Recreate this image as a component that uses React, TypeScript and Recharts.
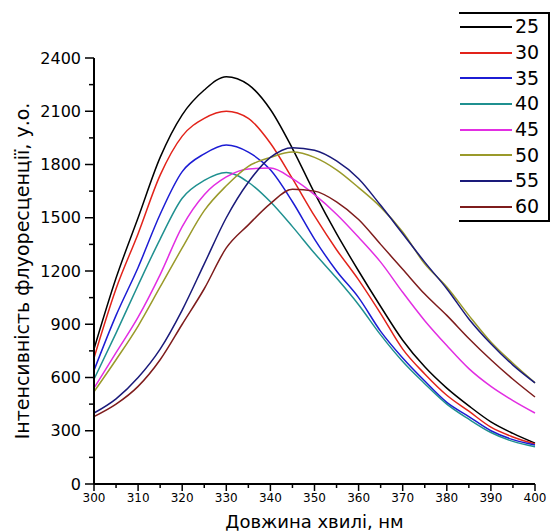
import { LineChart, Line, XAxis, YAxis } from 'recharts';

// Спектри флуоресценції при різних температурах
const wavelengths = [300, 305, 310, 315, 320, 325, 330, 335, 340, 345, 350, 355, 360, 365, 370, 375, 380, 385, 390, 395, 400];

const s25 = [760, 1160, 1500, 1840, 2080, 2220, 2295, 2250, 2110, 1890, 1640, 1410, 1200, 1000, 810, 660, 540, 440, 350, 285, 230];
const s30 = [710, 1100, 1410, 1740, 1960, 2060, 2100, 2060, 1920, 1720, 1510, 1320, 1150, 960, 760, 620, 500, 410, 320, 265, 225];
const s35 = [640, 950, 1220, 1520, 1760, 1860, 1910, 1870, 1770, 1590, 1380, 1200, 1050, 860, 710, 580, 460, 380, 300, 250, 220];
const s40 = [590, 850, 1120, 1380, 1610, 1710, 1755, 1700, 1590, 1450, 1300, 1160, 1010, 840, 690, 565, 450, 365, 290, 240, 210];
const s45 = [540, 740, 940, 1180, 1450, 1630, 1730, 1775, 1780, 1720, 1630, 1520, 1390, 1250, 1080, 920, 780, 650, 550, 470, 400];
const s50 = [520, 700, 890, 1110, 1330, 1540, 1680, 1790, 1840, 1870, 1840, 1770, 1670, 1560, 1420, 1240, 1110, 950, 800, 680, 570];
const s55 = [400, 480, 600, 760, 980, 1240, 1500, 1700, 1840, 1895, 1880, 1820, 1720, 1570, 1410, 1250, 1100, 930, 790, 670, 570];
const s60 = [380, 450, 550, 700, 900, 1100, 1330, 1460, 1580, 1660, 1650, 1590, 1490, 1350, 1210, 1070, 950, 820, 700, 590, 490];

const temps = ['25', '30', '35', '40', '45', '50', '55', '60'];
const seriesValues = [s25, s30, s35, s40, s45, s50, s55, s60];
const colors = ['#000000', '#e2231a', '#1c1cd4', '#1f9090', '#e22ee2', '#9a9a2a', '#1a1a7a', '#7e1c1c'];

const xTicks = [300, 305, 310, 315, 320, 325, 330, 335, 340, 345, 350, 355, 360, 365, 370, 375, 380, 385, 390, 395, 400];
const yTicks = [0, 150, 300, 450, 600, 750, 900, 1050, 1200, 1350, 1500, 1650, 1800, 1950, 2100, 2250, 2400];

const data = wavelengths.map((w, i) => {
  const row: Record<string, number> = { w };
  temps.forEach((t, k) => { row['t' + t] = seriesValues[k][i]; });
  return row;
});

const FONT = '"DejaVu Sans", "Liberation Sans", Arial, sans-serif';

function XTick(props: any) {
  const { x, y, payload } = props;
  const major = payload.value % 10 === 0;
  return (
    <g>
      <line x1={x} x2={x} y1={y} y2={y + (major ? 7 : 4)} stroke="#000" strokeWidth={1.5} />
      {major && (
        <text x={x} y={y + 18} textAnchor="middle" fontSize={12} fontFamily={FONT} fill="#000">
          {payload.value}
        </text>
      )}
    </g>
  );
}

function YTick(props: any) {
  const { x, y, payload } = props;
  const major = payload.value % 300 === 0;
  return (
    <g>
      <line x1={x - (major ? 9 : 5)} x2={x} y1={y} y2={y} stroke="#000" strokeWidth={1.5} />
      {major && (
        <text x={x - 13} y={y} dy="0.35em" textAnchor="end" fontSize={16} fontFamily={FONT} fill="#000">
          {payload.value}
        </text>
      )}
    </g>
  );
}

export default function App() {
  return (
    <div style={{ position: 'absolute', left: 0, top: 0, width: 550, height: 532, background: '#fff' }}>
      <LineChart width={550} height={532} data={data} margin={{ top: 58, right: 15, left: 0, bottom: 0 }}>
        <XAxis
          dataKey="w"
          type="number"
          domain={[300, 400]}
          ticks={xTicks}
          interval={0}
          tickSize={0}
          tickMargin={0}
          tickLine={false}
          tick={<XTick />}
          height={48}
          axisLine={{ stroke: '#000', strokeWidth: 2 }}
          label={{ value: 'Довжина хвилі, нм', position: 'insideBottom', offset: 4, fontSize: 18, fontFamily: FONT, fill: '#000' }}
        />
        <YAxis
          type="number"
          domain={[0, 2400]}
          ticks={yTicks}
          interval={0}
          tickSize={0}
          tickMargin={0}
          tickLine={false}
          tick={<YTick />}
          width={94}
          axisLine={{ stroke: '#000', strokeWidth: 2 }}
          label={{
            value: 'Інтенсивність флуоресценції, у.о.',
            angle: -90,
            position: 'insideLeft',
            offset: 22,
            fontSize: 19,
            fontFamily: FONT,
            fill: '#000',
            style: { textAnchor: 'middle' },
          }}
        />
        {temps.map((t, k) => (
          <Line
            key={t}
            type="monotone"
            dataKey={'t' + t}
            stroke={colors[k]}
            strokeWidth={1.5}
            dot={false}
            isAnimationActive={false}
          />
        ))}
      </LineChart>
      <div
        style={{
          position: 'absolute',
          left: 459,
          top: 12,
          width: 89,
          borderTop: '2px solid #000',
          borderRight: '2px solid #000',
          borderBottom: '2px solid #000',
          background: '#fff',
        }}
      >
        {temps.map((t, k) => (
          <div key={t} style={{ display: 'flex', alignItems: 'center', height: 25.7 }}>
            <span style={{ display: 'inline-block', marginLeft: 1, width: 52, height: 2, background: colors[k] }} />
            <span style={{ marginLeft: 3, fontSize: 19, fontFamily: FONT, color: '#000', lineHeight: '19px' }}>{t}</span>
          </div>
        ))}
      </div>
    </div>
  );
}
